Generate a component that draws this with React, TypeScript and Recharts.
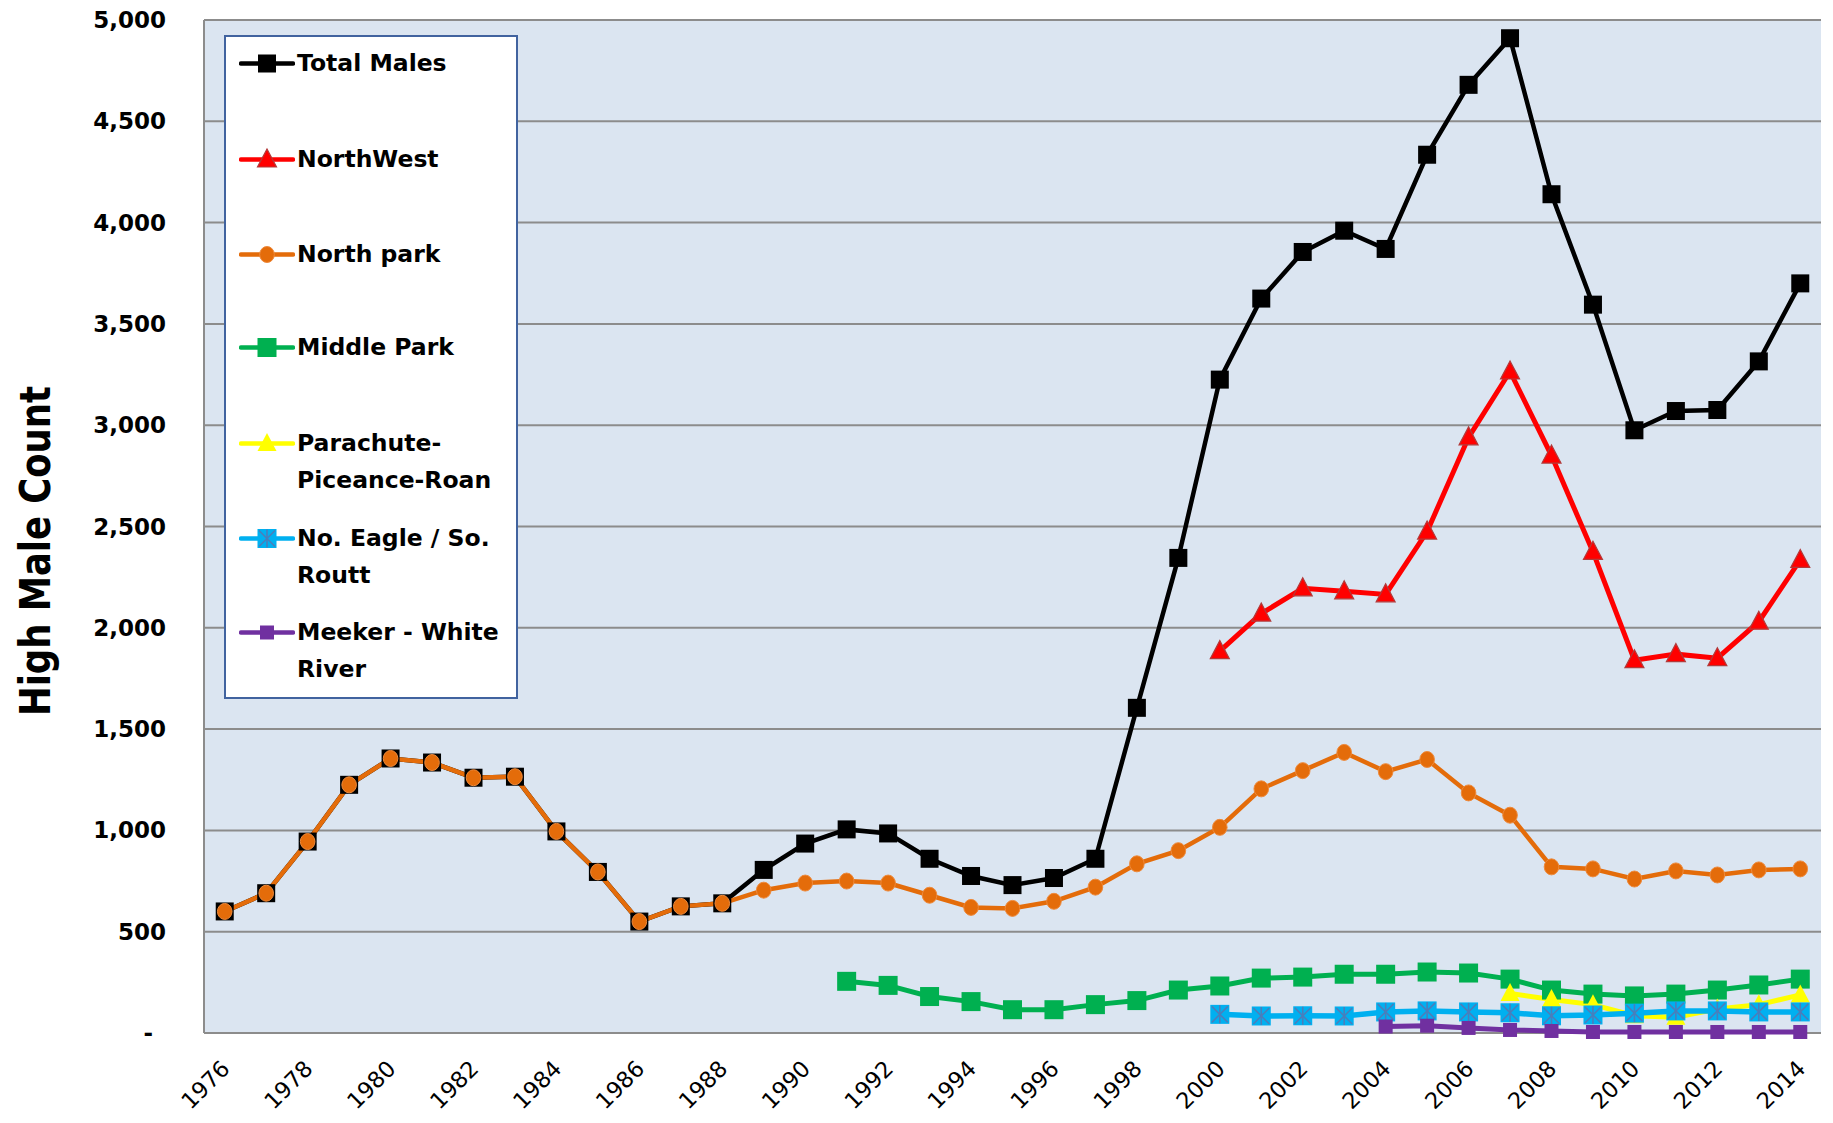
import React from "react";
import { LineChart, Line, XAxis, YAxis, CartesianGrid, Legend } from "recharts";

const years = [
  1976, 1977, 1978, 1979, 1980, 1981, 1982, 1983, 1984, 1985,
  1986, 1987, 1988, 1989, 1990, 1991, 1992, 1993, 1994, 1995,
  1996, 1997, 1998, 1999, 2000, 2001, 2002, 2003, 2004, 2005,
  2006, 2007, 2008, 2009, 2010, 2011, 2012, 2013, 2014,
];

const totalMales = [
  600, 690, 945, 1225, 1355, 1335, 1260, 1265, 995, 795,
  550, 625, 640, 805, 935, 1005, 985, 860, 775, 730,
  765, 860, 1605, 2345, 3225, 3625, 3855, 3960, 3870, 4335,
  4680, 4910, 4140, 3595, 2975, 3070, 3075, 3315, 3700,
];

const northWest = [
  null, null, null, null, null, null, null, null, null, null,
  null, null, null, null, null, null, null, null, null, null,
  null, null, null, null, 1885, 2070, 2195, 2180, 2165, 2475,
  2940, 3265, 2850, 2375, 1840, 1870, 1850, 2030, 2335,
];

const northPark = [
  600, 690, 945, 1225, 1355, 1335, 1260, 1265, 995, 795,
  550, 625, 640, 705, 740, 750, 740, 680, 620, 615,
  650, 720, 835, 900, 1015, 1205, 1295, 1385, 1290, 1350,
  1185, 1075, 820, 810, 760, 800, 780, 805, 810,
];

const middlePark = [
  null, null, null, null, null, null, null, null, null, null,
  null, null, null, null, null, 255, 235, 180, 155, 115,
  115, 140, 160, 212, 232, 271, 276, 290, 290, 301,
  296, 266, 212, 192, 183, 192, 212, 237, 266,
];

const parachute = [
  null, null, null, null, null, null, null, null, null, null,
  null, null, null, null, null, null, null, null, null, null,
  null, null, null, null, null, null, null, null, null, null,
  null, 195, 165, 140, 85, 78, 118, 140, 188,
];

const noEagle = [
  null, null, null, null, null, null, null, null, null, null,
  null, null, null, null, null, null, null, null, null, null,
  null, null, null, null, 92, 84, 85, 84, 104, 109,
  104, 100, 85, 89, 98, 109, 109, 104, 104,
];

const meeker = [
  null, null, null, null, null, null, null, null, null, null,
  null, null, null, null, null, null, null, null, null, null,
  null, null, null, null, null, null, null, null, 32, 36,
  25, 15, 10, 5, 5, 5, 5, 5, 5,
];

const yTicks = [0, 500, 1000, 1500, 2000, 2500, 3000, 3500, 4000, 4500, 5000];
const xLabelTicks = [
  1976, 1978, 1980, 1982, 1984, 1986, 1988, 1990, 1992, 1994,
  1996, 1998, 2000, 2002, 2004, 2006, 2008, 2010, 2012, 2014,
];
const xBoundaryTicks = [
  1975.5, 1976.5, 1977.5, 1978.5, 1979.5, 1980.5, 1981.5, 1982.5, 1983.5, 1984.5,
  1985.5, 1986.5, 1987.5, 1988.5, 1989.5, 1990.5, 1991.5, 1992.5, 1993.5, 1994.5,
  1995.5, 1996.5, 1997.5, 1998.5, 1999.5, 2000.5, 2001.5, 2002.5, 2003.5, 2004.5,
  2005.5, 2006.5, 2007.5, 2008.5, 2009.5, 2010.5, 2011.5, 2012.5, 2013.5, 2014.5,
];

const seriesNames = [
  "Total Males",
  "NorthWest",
  "North park",
  "Middle Park",
  "Parachute-Piceance-Roan",
  "No. Eagle / So. Routt",
  "Meeker - White River",
];

const data = years.map((year, i) => ({
  year,
  total: totalMales[i],
  northWest: northWest[i],
  northPark: northPark[i],
  middlePark: middlePark[i],
  parachute: parachute[i],
  noEagle: noEagle[i],
  meeker: meeker[i],
}));

type Kind = "blackSq" | "redTri" | "orangeCirc" | "greenSq" | "yellowTri" | "blueX" | "purpleSq";

function Marker({ kind, cx, cy }: { kind: Kind; cx: number; cy: number }) {
  switch (kind) {
    case "blackSq":
      return <rect x={cx - 9} y={cy - 9} width={18} height={18} fill="#000000" />;
    case "redTri":
      return (
        <polygon
          points={`${cx},${cy - 10.5} ${cx - 9.5},${cy + 7.5} ${cx + 9.5},${cy + 7.5}`}
          fill="#FF0000"
          stroke="#B23A3A"
          strokeWidth={1.2}
        />
      );
    case "orangeCirc":
      return <ellipse cx={cx} cy={cy} rx={7.3} ry={8} fill="#E46C0A" stroke="#EE8A3C" strokeWidth={1} />;
    case "greenSq":
      return <rect x={cx - 9.5} y={cy - 9.5} width={19} height={19} fill="#00B050" />;
    case "yellowTri":
      return (
        <polygon
          points={`${cx},${cy - 10.5} ${cx - 9.5},${cy + 7.5} ${cx + 9.5},${cy + 7.5}`}
          fill="#FFFF00"
        />
      );
    case "blueX":
      return (
        <g>
          <rect x={cx - 9.5} y={cy - 9.5} width={19} height={19} fill="#00B0F0" />
          <line x1={cx - 8} y1={cy - 8} x2={cx + 8} y2={cy + 8} stroke="#4A7EBB" strokeWidth={1.6} />
          <line x1={cx - 8} y1={cy + 8} x2={cx + 8} y2={cy - 8} stroke="#4A7EBB" strokeWidth={1.6} />
          <line x1={cx} y1={cy - 9} x2={cx} y2={cy + 9} stroke="#4A7EBB" strokeWidth={1.6} />
        </g>
      );
    case "purpleSq":
      return <rect x={cx - 7} y={cy - 7} width={14} height={14} fill="#7030A0" />;
  }
  return null;
}

const makeDot = (kind: Kind) => (props: any) => {
  const { cx, cy, index } = props;
  if (cx == null || cy == null || isNaN(cx) || isNaN(cy) || props.value == null) {
    return <g key={`d-${kind}-${index}`} />;
  }
  return (
    <g key={`d-${kind}-${index}`}>
      <Marker kind={kind} cx={cx} cy={cy} />
    </g>
  );
};

const FONT = "'DejaVu Sans', Verdana, sans-serif";

const YTick = (props: any) => {
  const { y, payload } = props;
  const v = payload.value as number;
  const label = v === 0 ? "-" : v.toLocaleString("en-US");
  return (
    <text
      x={v === 0 ? 145 : 158}
      y={y}
      textAnchor="end"
      dominantBaseline="central"
      fontFamily={FONT}
      fontWeight="bold"
      fontSize={23}
      fill="#000000"
    >
      {label}
    </text>
  );
};

const XTick = (props: any) => {
  const { x, payload } = props;
  const ax = x + 6.5;
  const ay = 1062;
  return (
    <text
      x={ax}
      y={ay}
      textAnchor="end"
      transform={`rotate(-45, ${ax}, ${ay})`}
      fontFamily={FONT}
      fontSize={22.5}
      fill="#000000"
    >
      {payload.value}
    </text>
  );
};

const TitleLabel = () => (
  <text
    x={27}
    y={543}
    transform="rotate(-90, 27, 543)"
    textAnchor="middle"
    dominantBaseline="central"
    fontFamily="'Liberation Sans Narrow', 'DejaVu Sans Condensed', 'Open Sans', sans-serif"
    fontWeight="bold"
    fontSize={42}
    fill="#000000"
    textLength={330}
    lengthAdjust="spacingAndGlyphs"
  >
    High Male Count
  </text>
);

const legendRows: { name: string[]; kind: Kind; color: string; center: number }[] = [
  { name: ["Total Males"], kind: "blackSq", color: "#000000", center: 28 },
  { name: ["NorthWest"], kind: "redTri", color: "#FF0000", center: 124 },
  { name: ["North park"], kind: "orangeCirc", color: "#E46C0A", center: 219 },
  { name: ["Middle Park"], kind: "greenSq", color: "#00B050", center: 312 },
  { name: ["Parachute-", "Piceance-Roan"], kind: "yellowTri", color: "#FFFF00", center: 408 },
  { name: ["No. Eagle / So.", "Routt"], kind: "blueX", color: "#00B0F0", center: 503 },
  { name: ["Meeker - White", "River"], kind: "purpleSq", color: "#7030A0", center: 597 },
];

const renderLegend = () => (
  <div
    style={{
      position: "relative",
      width: 294,
      height: 664,
      boxSizing: "border-box",
      border: "2px solid #41639F",
      background: "#FFFFFF",
    }}
  >
    {legendRows.map((r, i) => (
      <div key={i} style={{ position: "absolute", left: 0, top: r.center - 2 - 18.5 }}>
        <svg width={56} height={37} style={{ position: "absolute", left: 13, top: 0 }}>
          <line x1={2} y1={18.5} x2={54} y2={18.5} stroke={r.color} strokeWidth={4.5} strokeLinecap="round" />
          <Marker kind={r.kind} cx={28} cy={18.5} />
        </svg>
        <div
          style={{
            position: "absolute",
            left: 71,
            top: 0,
            whiteSpace: "nowrap",
            fontFamily: FONT,
            fontWeight: "bold",
            fontSize: 23.5,
            lineHeight: "37px",
            color: "#000000",
          }}
          title={seriesNames[i]}
        >
          {r.name.map((t, j) => (
            <div key={j}>{t}</div>
          ))}
        </div>
      </div>
    ))}
  </div>
);

export default function App() {
  return (
    <div style={{ position: "relative", width: 1817, height: 1107 }}>
      <LineChart
        width={1817}
        height={1107}
        data={data}
        margin={{ top: 12, right: 4, left: 0, bottom: 0 }}
        style={{ overflow: "visible" }}
      >
        <CartesianGrid
          xAxisId="a"
          yAxisId="left"
          horizontal={true}
          vertical={false}
          stroke="#8C8C8C"
          strokeWidth={2}
          fill="#DBE5F1"
          fillOpacity={1}
        />
        <XAxis
          xAxisId="a"
          dataKey="year"
          type="number"
          domain={[1975.5, 2014.5]}
          ticks={xBoundaryTicks}
          interval={0}
          tick={false}
          tickSize={10}
          height={0}
          stroke="#8C8C8C"
          axisLine={{ stroke: "#8C8C8C", strokeWidth: 2 }}
          tickLine={{ stroke: "#8C8C8C", strokeWidth: 2 }}
          allowDataOverflow
        />
        <XAxis
          xAxisId="b"
          dataKey="year"
          type="number"
          domain={[1975.5, 2014.5]}
          ticks={xLabelTicks}
          interval={0}
          axisLine={false}
          tickLine={false}
          height={82}
          tick={<XTick />}
          allowDataOverflow
        />
        <YAxis
          yAxisId="left"
          domain={[0, 5000]}
          ticks={yTicks}
          interval={0}
          width={196}
          axisLine={{ stroke: "#8C8C8C", strokeWidth: 2 }}
          tickLine={false}
          tick={<YTick />}
          label={<TitleLabel />}
        />
        <YAxis
          yAxisId="right"
          orientation="right"
          domain={[0, 5000]}
          ticks={[]}
          width={0}
          axisLine={{ stroke: "#8C8C8C", strokeWidth: 2 }}
          tickLine={false}
          tick={false}
        />
        <Legend
          layout="horizontal"
          verticalAlign="middle"
          align="center"
          content={renderLegend}
          wrapperStyle={{ position: "absolute", left: 216, top: 27, width: 294, height: 664, margin: 0 }}
        />
        <Line xAxisId="a" yAxisId="left" name={seriesNames[0]} dataKey="total" stroke="#000000" strokeWidth={4.5}
          dot={makeDot("blackSq")} activeDot={false} isAnimationActive={false} />
        <Line xAxisId="a" yAxisId="left" name={seriesNames[1]} dataKey="northWest" stroke="#FF0000" strokeWidth={5}
          dot={makeDot("redTri")} activeDot={false} isAnimationActive={false} />
        <Line xAxisId="a" yAxisId="left" name={seriesNames[2]} dataKey="northPark" stroke="#E46C0A" strokeWidth={4.5}
          dot={makeDot("orangeCirc")} activeDot={false} isAnimationActive={false} />
        <Line xAxisId="a" yAxisId="left" name={seriesNames[3]} dataKey="middlePark" stroke="#00B050" strokeWidth={5}
          dot={makeDot("greenSq")} activeDot={false} isAnimationActive={false} />
        <Line xAxisId="a" yAxisId="left" name={seriesNames[4]} dataKey="parachute" stroke="#FFFF00" strokeWidth={5}
          dot={makeDot("yellowTri")} activeDot={false} isAnimationActive={false} />
        <Line xAxisId="a" yAxisId="left" name={seriesNames[5]} dataKey="noEagle" stroke="#00B0F0" strokeWidth={5.5}
          dot={makeDot("blueX")} activeDot={false} isAnimationActive={false} />
        <Line xAxisId="a" yAxisId="left" name={seriesNames[6]} dataKey="meeker" stroke="#7030A0" strokeWidth={5}
          dot={makeDot("purpleSq")} activeDot={false} isAnimationActive={false} />
      </LineChart>
    </div>
  );
}
